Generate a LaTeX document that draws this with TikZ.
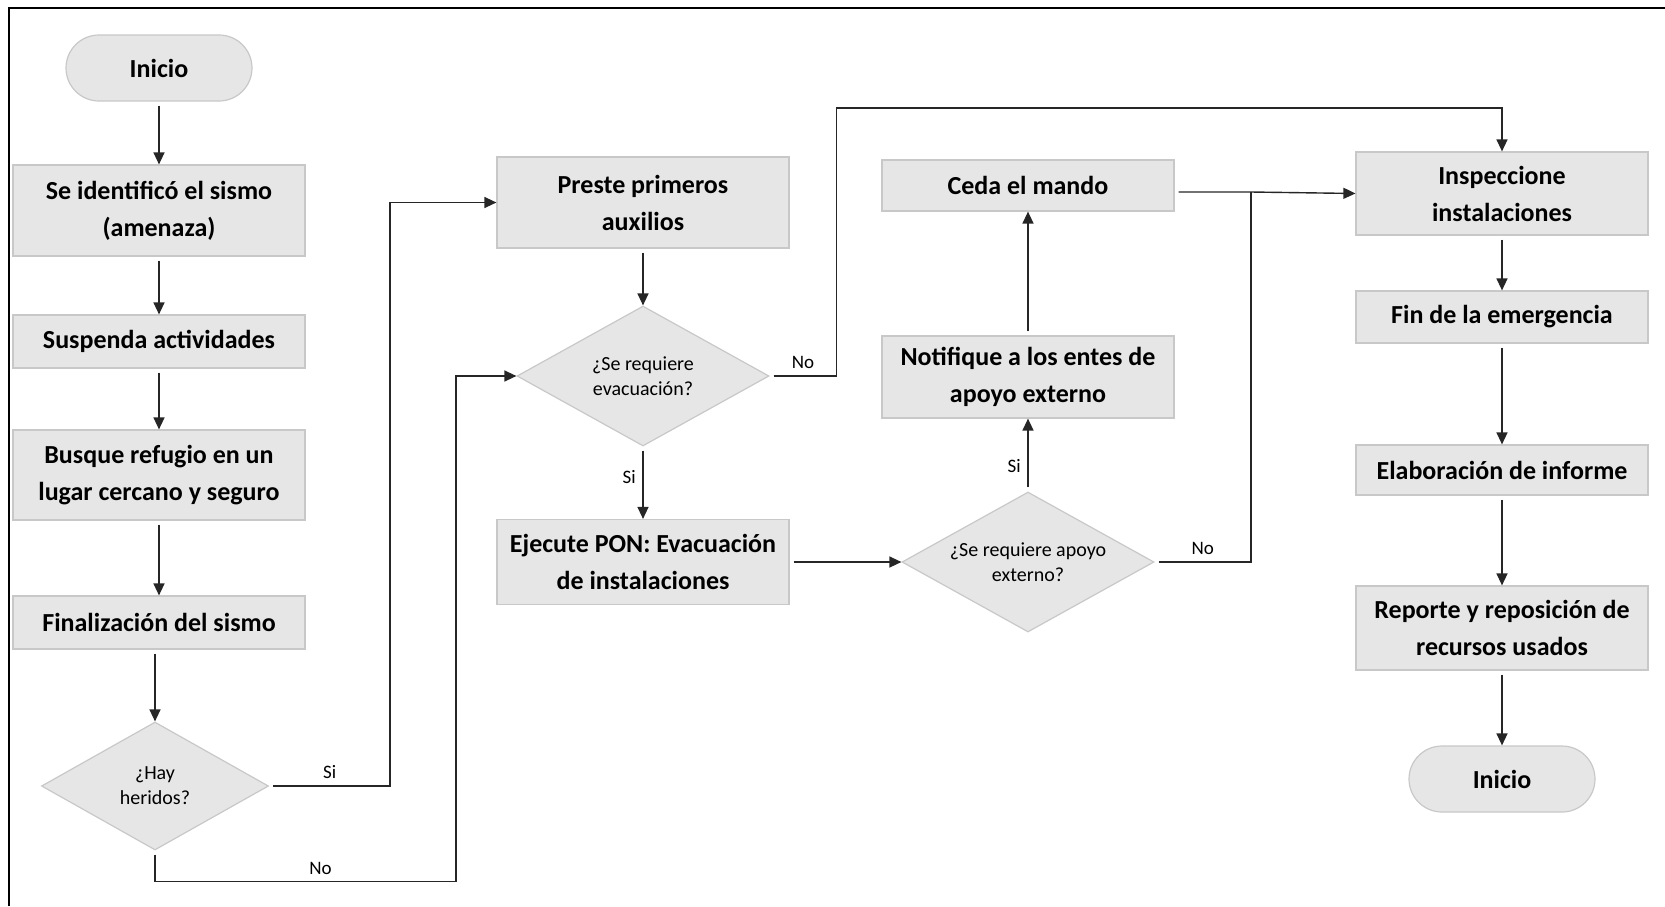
\documentclass[tikz,border=0pt]{standalone}
\usepackage{fontspec}
\setmainfont{Carlito}
\usepackage{xcolor}
\usetikzlibrary{shapes.geometric,arrows.meta,positioning}
\definecolor{cajagris}{HTML}{E6E6E6}
\definecolor{bordegris}{HTML}{C8C8C8}
\definecolor{lineagris}{HTML}{262626}

\tikzset{
  paso/.style={draw=bordegris, fill=cajagris, line width=0.6pt, minimum width=146pt,
    align=center, inner sep=2pt, font=\fontsize{13}{18.5}\selectfont\bfseries},
  decide/.style={diamond, aspect=1.8, draw=bordegris, fill=cajagris, line width=0.6pt, align=center,
    inner sep=0pt, font=\fontsize{10}{12.5}\selectfont},
  extremo/.style={draw=bordegris, fill=cajagris, line width=0.6pt, rounded corners=16.5pt,
    minimum width=93pt, minimum height=33pt, font=\fontsize{13}{18.5}\selectfont\bfseries},
  flecha/.style={-{Triangle[length=6pt,width=5.5pt]}, line width=0.7pt, draw=lineagris, shorten <=2pt},
  linea/.style={line width=0.7pt, draw=lineagris, shorten <=2pt},
  etiq/.style={font=\fontsize{9.5}{11}\selectfont}
}

\begin{document}
\begin{tikzpicture}[x=0.5pt,y=-0.5pt]
\useasboundingbox (0,0) rectangle (1665,906);
\draw[line width=1pt] (9,906) -- (9,8) -- (1665,8);

% columna izquierda
\node[extremo] (inicio) at (159,68) {Inicio};
\node[paso, minimum height=45.5pt] (identifico) at (159,210.5) {Se identificó el sismo\\(amenaza)};
\node[paso, minimum height=26.5pt] (suspenda) at (159,341.5) {Suspenda actividades};
\node[paso, minimum height=45pt] (refugio) at (159,475) {Busque refugio en un\\lugar cercano y seguro};
\node[paso, minimum height=26.5pt] (finaliza) at (159,622.5) {Finalización del sismo};
\node[decide, minimum width=113.5pt, minimum height=64pt] (heridos) at (155,786) {¿Hay\\heridos?};

% evacuacion
\node[paso, minimum height=45.5pt] (auxilios) at (643,202.5) {Preste primeros\\auxilios};
\node[decide, minimum width=126pt, minimum height=70pt] (evacua) at (643,376) {¿Se requiere\\evacuación?};
\node[paso, minimum height=42.5pt] (ejecute) at (643,562) {Ejecute PON: Evacuación\\de instalaciones};

% apoyo externo
\node[decide, minimum width=126pt, minimum height=70pt] (apoyo) at (1028,562) {¿Se requiere apoyo\\externo?};
\node[paso, minimum height=41pt] (notifique) at (1028,377) {Notifique a los entes de\\apoyo externo};
\node[paso, minimum height=25.5pt] (ceda) at (1028,185.5) {Ceda el mando};

% columna derecha
\node[paso, minimum height=41.5pt] (inspeccione) at (1502,193.5) {Inspeccione\\instalaciones};
\node[paso, minimum height=26pt] (fin) at (1502,317) {Fin de la emergencia};
\node[paso, minimum height=25pt] (informe) at (1502,470) {Elaboración de informe};
\node[paso, minimum height=42pt] (reporte) at (1502,628) {Reporte y reposición de\\recursos usados};
\node[extremo] (final) at (1502,779) {Inicio};

\coordinate (junta) at (1251,192);

\draw[flecha] (inicio) -- (identifico);
\draw[flecha] (identifico) -- (suspenda);
\draw[flecha] (suspenda) -- (refugio);
\draw[flecha] (refugio) -- (finaliza);
\draw[flecha] (finaliza.south -| heridos) -- (heridos);

\draw[flecha] (heridos.east) -- node[etiq,above]{Si} ++(121,0) |- (auxilios.west);
\draw[flecha] (heridos.south) -- ++(0,31) -- node[etiq,above,pos=0.55]{No} ++(301,0) |- (evacua.west);

\draw[flecha] (auxilios) -- (evacua);
\draw[flecha] (evacua.south) -- node[etiq,left,pos=0.42]{Si} (ejecute.north);
\draw[flecha] (evacua.east) -- node[etiq,above]{No} ++(67,0) -- ++(0,-268) -| (inspeccione.north);
\draw[flecha] (ejecute.east) -- (apoyo.west);

\draw[flecha] (apoyo.north) -- node[etiq,left,pos=0.35]{Si} (notifique.south);
\draw[flecha] (notifique) -- (ceda);
\draw[linea] (apoyo.east) -- node[etiq,above]{No} (apoyo.east -| junta) -- (junta);
\draw[flecha] (ceda.east |- junta) -- (junta) -- (inspeccione.west);

\draw[flecha] (inspeccione) -- (fin);
\draw[flecha] (fin) -- (informe);
\draw[flecha] (informe) -- (reporte);
\draw[flecha] (reporte) -- (final);
\end{tikzpicture}
\end{document}
